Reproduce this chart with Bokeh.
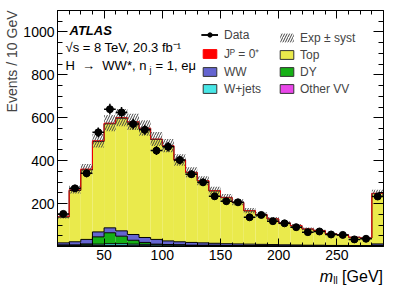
import numpy as np
from bokeh.plotting import figure
from bokeh.layouts import column
from bokeh.models import LinearAxis, FixedTicker, Range1d, Label, Legend, LegendItem, Title, Div
from bokeh.embed import file_html
from bokeh.resources import INLINE

# ---------------- data ----------------
bin_low = [10, 20, 30, 40, 50, 60, 70, 80, 90, 100, 110, 120, 130, 140,
           150, 160, 170, 180, 190, 200, 210, 220, 230, 240, 250, 260, 270, 280]
bin_width = 10

data = [152, 271, 341, 532, 640, 625, 571, 544, 447, 465, 403, 337, 299, 234,
        211, 206, 136, 147, 118, 108, 90, 67, 70, 56, 54, 33, 36, 233]
data_err = [12, 16, 18, 23, 25, 25, 24, 23, 21, 22, 20, 18, 17, 15,
            15, 14, 12, 12, 11, 10, 9, 8, 8, 7, 7, 6, 6, 15]

other_vv = [3, 3, 4, 5, 5, 5, 4, 4, 3, 3, 3, 2, 2, 2,
            2, 2, 2, 2, 1, 1, 1, 1, 1, 1, 1, 1, 1, 2]
wjets = [3, 3, 4, 6, 8, 8, 7, 6, 5, 4, 4, 3, 3, 3,
         2, 2, 2, 2, 2, 1, 1, 1, 1, 1, 1, 1, 1, 3]
dy = [1, 1, 4, 34, 51, 35, 18, 9, 3, 2, 1, 1, 1, 1,
      1, 0, 0, 0, 0, 0, 0, 0, 0, 0, 0, 0, 0, 0]
ww = [10, 15, 21, 23, 23, 25, 27, 23, 22, 17, 14, 13, 11, 9,
      8, 8, 7, 6, 6, 6, 5, 4, 4, 3, 3, 2, 2, 7]
top = [120, 239, 324, 421, 485, 525, 523, 508, 466, 443, 380, 326, 289, 244,
       215, 193, 155, 138, 119, 101, 90, 75, 67, 54, 49, 39, 36, 235]
signal = [3, 4, 4, 4, 3, 3, 2, 2, 2, 1, 1, 1, 1, 1,
          1, 1, 1, 1, 1, 1, 1, 1, 1, 0, 0, 0, 0, 1]
syst = [10, 18, 24, 32, 38, 40, 38, 36, 33, 31, 27, 23, 21, 18,
        16, 14, 12, 11, 9, 8, 7, 6, 5, 4, 4, 3, 3, 16]

x_major_ticks = [50, 100, 150, 200, 250]
x_minor_ticks = [10, 20, 30, 40, 60, 70, 80, 90, 110, 120, 130, 140, 160, 170,
                 180, 190, 210, 220, 230, 240, 260, 270, 280]
y_major_ticks = [200, 400, 600, 800, 1000]
y_minor_ticks = [50, 100, 150, 250, 300, 350, 450, 500, 550, 650, 700, 750,
                 850, 900, 950, 1050]

FONT = "Liberation Sans"
C_SIG, C_TOP, C_WW, C_DY, C_WJ, C_VV = "#ff0000", "#eaea4c", "#6565d1", "#16b016", "#48e6e6", "#e946e9"

# ---------------- figure ----------------
p = figure(width=399, height=270, x_range=Range1d(10, 290), y_range=Range1d(0, 1100),
           output_backend="svg", toolbar_location=None,
           x_axis_type=None, y_axis_type=None,
           min_border_left=56, min_border_right=16, min_border_top=10, min_border_bottom=24)
p.outline_line_color = "black"
p.background_fill_color = "white"
p.border_fill_color = "white"


def make_axis(major, minor, tin, tmin, labels):
    ax = LinearAxis(ticker=FixedTicker(ticks=major, minor_ticks=minor))
    ax.major_tick_in = tin
    ax.major_tick_out = 0
    ax.minor_tick_in = tmin
    ax.minor_tick_out = 0
    ax.axis_line_color = "black"
    ax.major_tick_line_color = "black"
    ax.minor_tick_line_color = "black"
    if labels:
        ax.major_label_text_font = FONT
        ax.major_label_text_font_size = "14px"
        ax.major_label_text_color = "black"
        ax.major_label_standoff = 3
    else:
        ax.major_label_text_font_size = "0px"
        ax.major_label_text_color = None
        ax.major_label_standoff = 0
    return ax


p.add_layout(make_axis(x_major_ticks, x_minor_ticks, 8, 4, True), "below")
p.add_layout(make_axis(x_major_ticks, x_minor_ticks, 8, 4, False), "above")
p.add_layout(make_axis(y_major_ticks, y_minor_ticks, 10, 5, True), "left")
p.add_layout(make_axis(y_major_ticks, y_minor_ticks, 10, 5, False), "right")

# y axis title, aligned to the top end
p.add_layout(Title(text="Events / 10 GeV", align="right", text_font=FONT,
                   text_font_size="14px", text_font_style="normal", standoff=2), "left")

lo = np.array(bin_low, dtype=float)
hi = lo + bin_width
ctr = lo + bin_width / 2.0
edges = np.append(lo, hi[-1])

layers = [(other_vv, C_VV, "black"), (wjets, C_WJ, "black"), (dy, C_DY, "black"),
          (ww, C_WW, "black"), (top, C_TOP, "black"), (signal, C_SIG, C_SIG)]

base = np.zeros(len(lo))
cum_tops = []
for vals, col, lc in layers:
    t = base + np.array(vals, dtype=float)
    p.quad(left=lo, right=hi, bottom=base, top=t, fill_color=col, line_color=None)
    cum_tops.append((t, lc))
    base = t
for t, lc in cum_tops:
    p.step(x=edges, y=np.append(t, t[-1]), mode="after", line_color=lc, line_width=1)

total = base
s = np.array(syst, dtype=float)
band = p.quad(left=lo, right=hi, bottom=total - s, top=total + s, fill_alpha=0,
              line_color=None, hatch_pattern="/", hatch_color="#444444",
              hatch_scale=5, hatch_weight=1)

d = np.array(data, dtype=float)
e = np.array(data_err, dtype=float)
hbar = p.segment(x0=lo, x1=hi, y0=d, y1=d, line_color="black", line_width=1.5)
vbar = p.segment(x0=ctr, x1=ctr, y0=d - e, y1=d + e, line_color="black", line_width=1.5)
pts = p.scatter(ctr, d, size=7, color="black")

# legend proxies (one NaN entry each, so nothing is drawn in the frame)
def proxy(fc, lc):
    return p.quad(left=[np.nan], right=[np.nan], top=[np.nan], bottom=[np.nan],
                  fill_color=fc, line_color=lc, line_width=1)

r_sig = proxy(C_SIG, C_SIG)
r_top = proxy(C_TOP, "#333333")
r_ww = proxy(C_WW, "#333333")
r_dy = proxy(C_DY, "#333333")
r_wj = proxy(C_WJ, "#333333")
r_vv = proxy(C_VV, "#333333")


def mk_legend(items, loc, standoff):
    lg = Legend(items=items, location=loc)
    lg.label_text_font = FONT
    lg.label_text_font_size = "12px"
    lg.glyph_width = 17
    lg.glyph_height = 11
    lg.label_height = 11
    lg.spacing = 3
    lg.padding = 0
    lg.margin = 0
    lg.label_standoff = standoff
    lg.border_line_color = None
    lg.background_fill_alpha = 0
    return lg


leg1 = mk_legend([LegendItem(label="Data", renderers=[hbar, vbar, pts]),
                  LegendItem(label="J\u1d3e = 0\u207a", renderers=[r_sig]),
                  LegendItem(label="WW", renderers=[r_ww]),
                  LegendItem(label="W+jets", renderers=[r_wj])], (144, 150.4), 6)
leg2 = mk_legend([LegendItem(label="Exp \u00b1 syst", renderers=[band]),
                  LegendItem(label="Top", renderers=[r_top]),
                  LegendItem(label="DY", renderers=[r_dy]),
                  LegendItem(label="Other VV", renderers=[r_vv])], (221, 150.4), 5)
p.add_layout(leg1)
p.add_layout(leg2)

# ---------------- texts inside the frame ----------------
def lab(x, y, text, size="13px", style="normal", align="left", baseline="middle"):
    p.add_layout(Label(x=x, y=y, x_units="screen", y_units="screen", text=text,
                       text_font=FONT, text_font_size=size, text_font_style=style,
                       text_align=align, text_baseline=baseline, text_color="black"))


lab(12, 216.5, "ATLAS", size="13px", style="bold italic")
lab(8, 199.5, "\u221as = 8 TeV, 20.3 fb\u207b\u00b9")
lab(8, 181, "H \u00a0\u2192\u00a0 WW*, n")
lab(92, 177, "j", size="9px")
lab(98, 181, "= 1, e\u03bc")

# x axis title as a strip below the figure
xtitle = Div(text="<i>m</i><span style='font-size:10px;position:relative;top:2px'>ll</span> [GeV]",
             width=399, height=16, margin=(0, 0, 0, 0),
             styles={"text-align": "right", "font-family": FONT, "font-size": "16px",
                     "line-height": "13px", "padding-right": "16px", "color": "black",
                     "box-sizing": "border-box", "white-space": "nowrap"})

layout = column(p, xtitle, spacing=0)
open("out.html", "w").write(file_html(layout, INLINE))
